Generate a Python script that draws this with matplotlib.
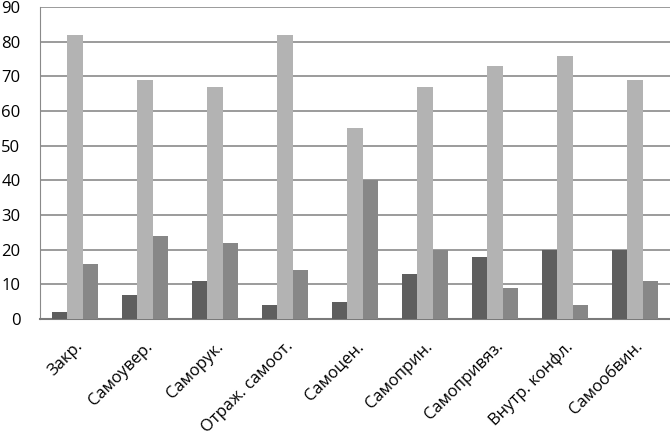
"""Grouped bar chart - self-attitude scales."""
import numpy as np
from matplotlib import pyplot as plt

categories = [
    "Закр.", "Самоувер.", "Саморук.", "Отраж. самоот.", "Самоцен.",
    "Самоприн.", "Самопривяз.", "Внутр. конфл.", "Самообвин.",
]
low = [2, 7, 11, 4, 5, 13, 18, 20, 20]
mid = [82, 69, 67, 82, 55, 67, 73, 76, 69]
high = [16, 24, 22, 14, 40, 20, 9, 4, 11]

colors = ["#5e5e5e", "#b3b3b3", "#878787"]


def main():
    plt.rcParams["font.family"] = ["Open Sans", "DejaVu Sans"]
    fig = plt.figure(figsize=(6.7, 4.4), dpi=100)
    ax = fig.add_axes([40 / 670, 1 - 319 / 440, 630 / 670, 312 / 440])

    x = np.arange(len(categories))
    w = 0.22
    for i, (vals, c) in enumerate(zip([low, mid, high], colors)):
        ax.bar(x + (i - 1) * w, vals, width=w, color=c, zorder=3)

    ax.set_xlim(-0.5, len(categories) - 0.5)
    ax.set_ylim(0, 90)
    ax.set_yticks(range(0, 91, 10))
    ax.yaxis.grid(True, color="#8a8a8a", linewidth=1.2, zorder=0)
    ax.tick_params(axis="y", length=0, labelsize=12, pad=14)
    ax.tick_params(axis="x", length=0, pad=14)
    ax.set_xticks(x)
    ax.set_xticklabels(categories, rotation=45, ha="right",
                       rotation_mode="anchor", fontsize=12)
    for s in ["top", "right"]:
        ax.spines[s].set_visible(False)
    ax.spines["left"].set_color("#8a8a8a")
    ax.spines["bottom"].set_color("#7a7a7a")
    ax.spines["bottom"].set_linewidth(1.5)

    fig.savefig("out.png", dpi=100)
    plt.close(fig)


if __name__ == "__main__":
    main()
